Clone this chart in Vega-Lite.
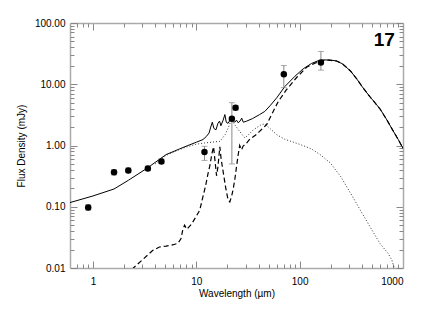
{
  "$schema": "https://vega.github.io/schema/vega-lite/v6.json",
  "width": 333,
  "height": 245,
  "autosize": {"type": "none"},
  "padding": {"left": 70, "top": 23, "right": 22, "bottom": 46},
  "background": "white",
  "config": {
    "view": {"stroke": null},
    "axis": {
      "grid": false,
      "labelFont": "Liberation Sans",
      "labelFontSize": 10,
      "labelColor": "#000",
      "titleFont": "Liberation Sans",
      "titleFontSize": 10,
      "titleFontWeight": "normal",
      "titleColor": "#000",
      "tickColor": "#888",
      "domainColor": "#aaa",
      "domainWidth": 1.5
    }
  },
  "datasets": {
    "total": [
      {"lam": 0.6, "flux": 0.117}, {"lam": 1.0, "flux": 0.15}, {"lam": 1.6, "flux": 0.195},
      {"lam": 2.2, "flux": 0.27}, {"lam": 3.3, "flux": 0.42}, {"lam": 5.1, "flux": 0.71},
      {"lam": 6.9, "flux": 0.88}, {"lam": 8.3, "flux": 1.0}, {"lam": 10, "flux": 1.13},
      {"lam": 11.6, "flux": 1.25}, {"lam": 12.5, "flux": 1.4}, {"lam": 13.3, "flux": 1.6},
      {"lam": 13.8, "flux": 2.0}, {"lam": 14.3, "flux": 2.4}, {"lam": 14.8, "flux": 1.9},
      {"lam": 15.5, "flux": 1.8}, {"lam": 16.2, "flux": 2.3}, {"lam": 16.8, "flux": 2.5},
      {"lam": 17.3, "flux": 2.1}, {"lam": 18.2, "flux": 2.6}, {"lam": 18.9, "flux": 3.2},
      {"lam": 19.5, "flux": 2.4}, {"lam": 20.3, "flux": 2.3}, {"lam": 21.2, "flux": 2.6},
      {"lam": 22.0, "flux": 2.9}, {"lam": 22.8, "flux": 2.5}, {"lam": 23.6, "flux": 2.4},
      {"lam": 24.5, "flux": 2.6}, {"lam": 25.4, "flux": 2.35}, {"lam": 26.5, "flux": 2.5},
      {"lam": 27.5, "flux": 2.8}, {"lam": 28.5, "flux": 2.4}, {"lam": 30.7, "flux": 2.5},
      {"lam": 35, "flux": 2.75}, {"lam": 41, "flux": 3.2}, {"lam": 46, "flux": 3.6},
      {"lam": 52, "flux": 4.5}, {"lam": 60, "flux": 6.0}, {"lam": 72, "flux": 9.2},
      {"lam": 90, "flux": 13.5}, {"lam": 108, "flux": 17.8}, {"lam": 130, "flux": 21.8},
      {"lam": 150, "flux": 24.1}, {"lam": 170, "flux": 25}, {"lam": 200, "flux": 24.8},
      {"lam": 228, "flux": 24}, {"lam": 260, "flux": 21.5}, {"lam": 310, "flux": 16.5},
      {"lam": 360, "flux": 12}, {"lam": 405, "flux": 9}, {"lam": 480, "flux": 6.2},
      {"lam": 520, "flux": 5.3}, {"lam": 603, "flux": 3.9}, {"lam": 700, "flux": 2.6},
      {"lam": 800, "flux": 1.75}, {"lam": 900, "flux": 1.25}, {"lam": 1000, "flux": 0.9}
    ],
    "cold": [
      {"lam": 2.38, "flux": 0.0095}, {"lam": 3.0, "flux": 0.0135}, {"lam": 3.8, "flux": 0.0194},
      {"lam": 4.4, "flux": 0.022}, {"lam": 5.1, "flux": 0.0228}, {"lam": 6.0, "flux": 0.024},
      {"lam": 6.65, "flux": 0.0253}, {"lam": 7.1, "flux": 0.03}, {"lam": 7.4, "flux": 0.042},
      {"lam": 7.7, "flux": 0.05}, {"lam": 8.1, "flux": 0.043}, {"lam": 9.0, "flux": 0.052},
      {"lam": 10.0, "flux": 0.07}, {"lam": 10.8, "flux": 0.088}, {"lam": 11.6, "flux": 0.146},
      {"lam": 12.3, "flux": 0.22}, {"lam": 13.0, "flux": 0.35}, {"lam": 13.5, "flux": 0.46},
      {"lam": 14.2, "flux": 0.75}, {"lam": 14.7, "flux": 0.95}, {"lam": 15.2, "flux": 0.55},
      {"lam": 15.7, "flux": 0.32}, {"lam": 16.2, "flux": 0.45}, {"lam": 16.9, "flux": 0.95},
      {"lam": 17.4, "flux": 0.6}, {"lam": 18.3, "flux": 0.35}, {"lam": 19.3, "flux": 0.2},
      {"lam": 20.3, "flux": 0.13}, {"lam": 21.1, "flux": 0.12}, {"lam": 22.0, "flux": 0.15},
      {"lam": 22.7, "flux": 0.19}, {"lam": 23.6, "flux": 0.28}, {"lam": 24.5, "flux": 0.45},
      {"lam": 25.4, "flux": 0.7}, {"lam": 26.3, "flux": 1.0}, {"lam": 27.4, "flux": 0.85},
      {"lam": 28.4, "flux": 0.98}, {"lam": 30, "flux": 1.05}, {"lam": 33, "flux": 1.27},
      {"lam": 37, "flux": 1.45}, {"lam": 41, "flux": 1.7}, {"lam": 48, "flux": 2.2},
      {"lam": 55, "flux": 3.5}, {"lam": 62, "flux": 5.2}, {"lam": 74, "flux": 8.0},
      {"lam": 94, "flux": 13.0}, {"lam": 117, "flux": 19.0}, {"lam": 158, "flux": 24.2},
      {"lam": 190, "flux": 24.7}, {"lam": 228, "flux": 23.9}, {"lam": 260, "flux": 21.5},
      {"lam": 310, "flux": 16.5}, {"lam": 360, "flux": 12}, {"lam": 405, "flux": 9},
      {"lam": 480, "flux": 6.2}, {"lam": 520, "flux": 5.3}, {"lam": 603, "flux": 3.9},
      {"lam": 700, "flux": 2.6}, {"lam": 800, "flux": 1.75}, {"lam": 900, "flux": 1.25},
      {"lam": 1000, "flux": 0.9}
    ],
    "warm": [
      {"lam": 4.0, "flux": 0.5}, {"lam": 5.1, "flux": 0.69}, {"lam": 6.9, "flux": 0.86},
      {"lam": 8.3, "flux": 0.96}, {"lam": 10, "flux": 1.05}, {"lam": 12, "flux": 1.1},
      {"lam": 14, "flux": 1.13}, {"lam": 16.9, "flux": 1.17}, {"lam": 19, "flux": 1.5},
      {"lam": 20.5, "flux": 2.0}, {"lam": 22, "flux": 2.7}, {"lam": 23, "flux": 2.3},
      {"lam": 25, "flux": 1.9}, {"lam": 27.4, "flux": 1.55}, {"lam": 29.5, "flux": 1.33},
      {"lam": 32, "flux": 1.5}, {"lam": 35.6, "flux": 1.8}, {"lam": 42.7, "flux": 2.2},
      {"lam": 46, "flux": 2.25}, {"lam": 51.5, "flux": 1.9}, {"lam": 60, "flux": 1.5},
      {"lam": 72, "flux": 1.26}, {"lam": 101, "flux": 1.04}, {"lam": 130, "flux": 0.88},
      {"lam": 158, "flux": 0.71}, {"lam": 198, "flux": 0.52}, {"lam": 250, "flux": 0.31},
      {"lam": 310, "flux": 0.168}, {"lam": 385, "flux": 0.089}, {"lam": 480, "flux": 0.047},
      {"lam": 600, "flux": 0.025}, {"lam": 720, "flux": 0.0172}, {"lam": 780, "flux": 0.0135},
      {"lam": 830, "flux": 0.0095}
    ],
    "obs": [
      {"lam": 0.9, "flux": 0.097, "lo": 0.088, "hi": 0.108},
      {"lam": 1.6, "flux": 0.365, "lo": 0.33, "hi": 0.40},
      {"lam": 2.2, "flux": 0.39, "lo": 0.36, "hi": 0.43},
      {"lam": 3.4, "flux": 0.42, "lo": 0.39, "hi": 0.46},
      {"lam": 4.6, "flux": 0.55, "lo": 0.51, "hi": 0.60},
      {"lam": 12.0, "flux": 0.78, "lo": 0.57, "hi": 0.97},
      {"lam": 22.1, "flux": 2.74, "lo": 0.5, "hi": 5.0},
      {"lam": 24.0, "flux": 4.15, "lo": 3.8, "hi": 4.5},
      {"lam": 70.3, "flux": 14.6, "lo": 8.8, "hi": 20.2},
      {"lam": 160.6, "flux": 22.7, "lo": 17.0, "hi": 34.3}
    ]
  },
  "resolve": {"axis": {"x": "independent", "y": "independent"}},
  "layer": [
    {
      "data": {"name": "total"},
      "mark": {"type": "line", "color": "#000", "strokeWidth": 1, "clip": true},
      "encoding": {
        "x": {"field": "lam", "type": "quantitative",
          "scale": {"type": "log", "domain": [0.6, 1000], "nice": false},
          "axis": {"orient": "bottom", "values": [1, 10, 100, 1000], "format": "d", "tickSize": -7, "labelPadding": 15, "titlePadding": 2, "title": "Wavelength (µm)"}},
        "y": {"field": "flux", "type": "quantitative",
          "scale": {"type": "log", "domain": [0.01, 100], "nice": false},
          "axis": {"orient": "left", "values": [0.01, 0.1, 1, 10, 100], "format": ".2f", "tickSize": -7, "labelPadding": 12, "title": "Flux Density (mJy)", "titlePadding": 8}}
      }
    },
    {
      "data": {"name": "cold"},
      "mark": {"type": "line", "color": "#000", "strokeWidth": 1.2, "strokeDash": [5, 3], "clip": true},
      "encoding": {
        "x": {"field": "lam", "type": "quantitative",
          "axis": {"orient": "bottom", "values": [0.7, 0.8, 0.9, 2, 3, 4, 5, 6, 7, 8, 9, 20, 30, 40, 50, 60, 70, 80, 90, 200, 300, 400, 500, 600, 700, 800, 900], "labels": false, "domain": false, "tickSize": -4, "title": null}},
        "y": {"field": "flux", "type": "quantitative",
          "axis": {"orient": "left", "values": [0.02, 0.03, 0.04, 0.05, 0.06, 0.07, 0.08, 0.09, 0.2, 0.3, 0.4, 0.5, 0.6, 0.7, 0.8, 0.9, 2, 3, 4, 5, 6, 7, 8, 9, 20, 30, 40, 50, 60, 70, 80, 90], "labels": false, "domain": false, "tickSize": -4, "title": null}}
      }
    },
    {
      "data": {"name": "warm"},
      "mark": {"type": "line", "color": "#333", "strokeWidth": 1, "strokeDash": [1, 2], "clip": true},
      "encoding": {
        "x": {"field": "lam", "type": "quantitative",
          "axis": {"orient": "top", "values": [1, 10, 100, 1000], "labels": false, "tickSize": -7, "title": null}},
        "y": {"field": "flux", "type": "quantitative",
          "axis": {"orient": "right", "values": [0.01, 0.1, 1, 10, 100], "labels": false, "tickSize": -7, "title": null}}
      }
    },
    {
      "data": {"name": "obs"},
      "mark": {"type": "rule", "color": "#888", "strokeWidth": 1},
      "encoding": {
        "x": {"field": "lam", "type": "quantitative",
          "axis": {"orient": "top", "values": [0.7, 0.8, 0.9, 2, 3, 4, 5, 6, 7, 8, 9, 20, 30, 40, 50, 60, 70, 80, 90, 200, 300, 400, 500, 600, 700, 800, 900], "labels": false, "domain": false, "tickSize": -4, "title": null}},
        "y": {"field": "lo", "type": "quantitative",
          "axis": {"orient": "right", "values": [0.02, 0.03, 0.04, 0.05, 0.06, 0.07, 0.08, 0.09, 0.2, 0.3, 0.4, 0.5, 0.6, 0.7, 0.8, 0.9, 2, 3, 4, 5, 6, 7, 8, 9, 20, 30, 40, 50, 60, 70, 80, 90], "labels": false, "domain": false, "tickSize": -4, "title": null}},
        "y2": {"field": "hi"}
      }
    },
    {
      "data": {"name": "obs"},
      "mark": {"type": "tick", "orient": "horizontal", "color": "#888", "size": 6, "thickness": 1},
      "encoding": {
        "x": {"field": "lam", "type": "quantitative", "axis": null},
        "y": {"field": "lo", "type": "quantitative", "axis": null}
      }
    },
    {
      "data": {"name": "obs"},
      "mark": {"type": "tick", "orient": "horizontal", "color": "#888", "size": 6, "thickness": 1},
      "encoding": {
        "x": {"field": "lam", "type": "quantitative", "axis": null},
        "y": {"field": "hi", "type": "quantitative", "axis": null}
      }
    },
    {
      "data": {"name": "obs"},
      "mark": {"type": "point", "filled": true, "color": "#000", "opacity": 1, "size": 42},
      "encoding": {
        "x": {"field": "lam", "type": "quantitative", "axis": null},
        "y": {"field": "flux", "type": "quantitative", "axis": null}
      }
    },
    {
      "data": {"values": [{}]},
      "mark": {"type": "text", "text": "17", "font": "Liberation Sans", "fontSize": 19, "fontWeight": "bold", "color": "#000", "align": "center", "baseline": "middle"},
      "encoding": {
        "x": {"datum": 660, "type": "quantitative", "axis": null},
        "y": {"datum": 52, "type": "quantitative", "axis": null}
      }
    }
  ]
}
